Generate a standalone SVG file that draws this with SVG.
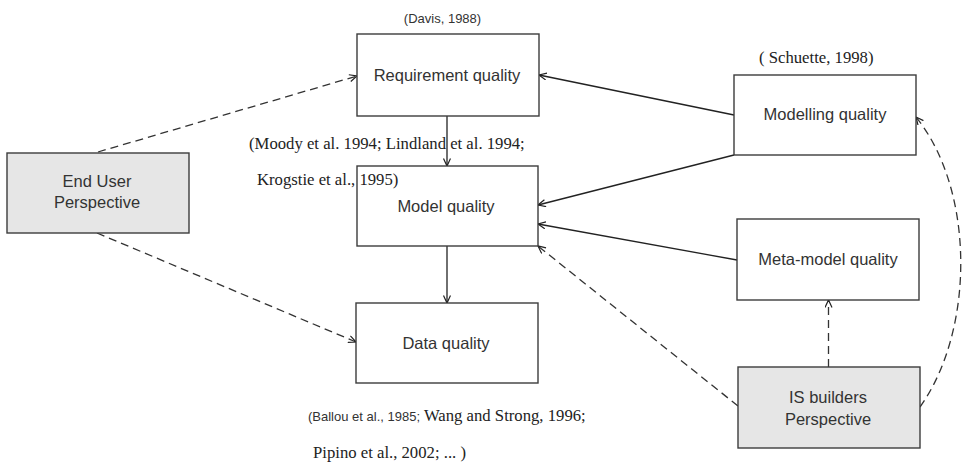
<svg xmlns="http://www.w3.org/2000/svg" width="967" height="463" viewBox="0 0 967 463">
<style>
.box{fill:#ffffff;stroke:#3c3c3c;stroke-width:1.4}
.grey{fill:#e6e6e6}
.lbl{font-family:"Liberation Sans",Arial,sans-serif;font-size:16.5px;fill:#333;text-anchor:middle}
.cite{font-family:"Liberation Serif","Times New Roman",serif;font-size:16.7px;fill:#222}
.cites{font-family:"Liberation Sans",Arial,sans-serif;font-size:13px;fill:#333}
.solid{fill:none;stroke:#222;stroke-width:1.3}
.dash{fill:none;stroke:#333;stroke-width:1.3;stroke-dasharray:8 5}
</style>
<defs>
<marker id="arr" markerWidth="10" markerHeight="10" refX="8" refY="4" orient="auto" markerUnits="userSpaceOnUse">
<path d="M0.5,0.5 L8,4 L0.5,7.5" fill="none" stroke="#222" stroke-width="1.2"/>
</marker>
</defs>
<rect width="967" height="463" fill="#ffffff"/>
<g id="connectors">
<path class="dash" d="M98,152 L357,76" marker-end="url(#arr)"/>
<path class="dash" d="M97,233 L356,342" marker-end="url(#arr)"/>
<path class="solid" d="M447,116 L447,166" marker-end="url(#arr)"/>
<path class="solid" d="M447,246 L447,303" marker-end="url(#arr)"/>
<path class="solid" d="M734,115 L539,75" marker-end="url(#arr)"/>
<path class="solid" d="M734,155 L538,205" marker-end="url(#arr)"/>
<path class="solid" d="M737,260 L538,224" marker-end="url(#arr)"/>
<path class="dash" d="M738,406 L538,246" marker-end="url(#arr)"/>
<path class="dash" d="M828.5,367 L828.5,300" marker-end="url(#arr)"/>
<path class="dash" d="M920,407 C975,330 975,190 916,117" marker-end="url(#arr)"/>
</g>
<g id="end-user">
<rect class="box grey" x="7" y="153" width="182" height="80"/>
<text class="lbl" x="97" y="187">End User</text>
<text class="lbl" x="97" y="208">Perspective</text>
</g>
<g id="requirement-quality">
<rect class="box" x="357" y="34" width="182" height="82"/>
<text class="lbl" x="447" y="81">Requirement quality</text>
</g>
<g id="model-quality">
<rect class="box" x="357" y="166" width="181" height="80"/>
<text class="lbl" x="446" y="212">Model quality</text>
</g>
<g id="data-quality">
<rect class="box" x="356" y="303" width="182" height="80"/>
<text class="lbl" x="446" y="349">Data quality</text>
</g>
<g id="modelling-quality">
<rect class="box" x="734" y="75" width="182" height="80"/>
<text class="lbl" x="825" y="120">Modelling quality</text>
</g>
<g id="meta-model-quality">
<rect class="box" x="737" y="219" width="182" height="81"/>
<text class="lbl" x="828" y="265">Meta-model quality</text>
</g>
<g id="is-builders">
<rect class="box grey" x="738" y="367" width="182" height="81"/>
<text class="lbl" x="828" y="403">IS builders</text>
<text class="lbl" x="828" y="425">Perspective</text>
</g>
<g id="citations">
<text class="cites" x="442.5" y="22.5" text-anchor="middle">(Davis, 1988)</text>
<text class="cite" x="249" y="149">(Moody et al. 1994; Lindland et al. 1994;</text>
<text class="cite" x="257" y="185">Krogstie et al., 1995)</text>
<text class="cite" x="759" y="63">( Schuette, 1998)</text>
<text x="308" y="421"><tspan class="cites">(Ballou et al., 1985;</tspan><tspan class="cite"> Wang and Strong, 1996;</tspan></text>
<text class="cite" x="313" y="458">Pipino et al., 2002; ... )</text>
</g>
</svg>
